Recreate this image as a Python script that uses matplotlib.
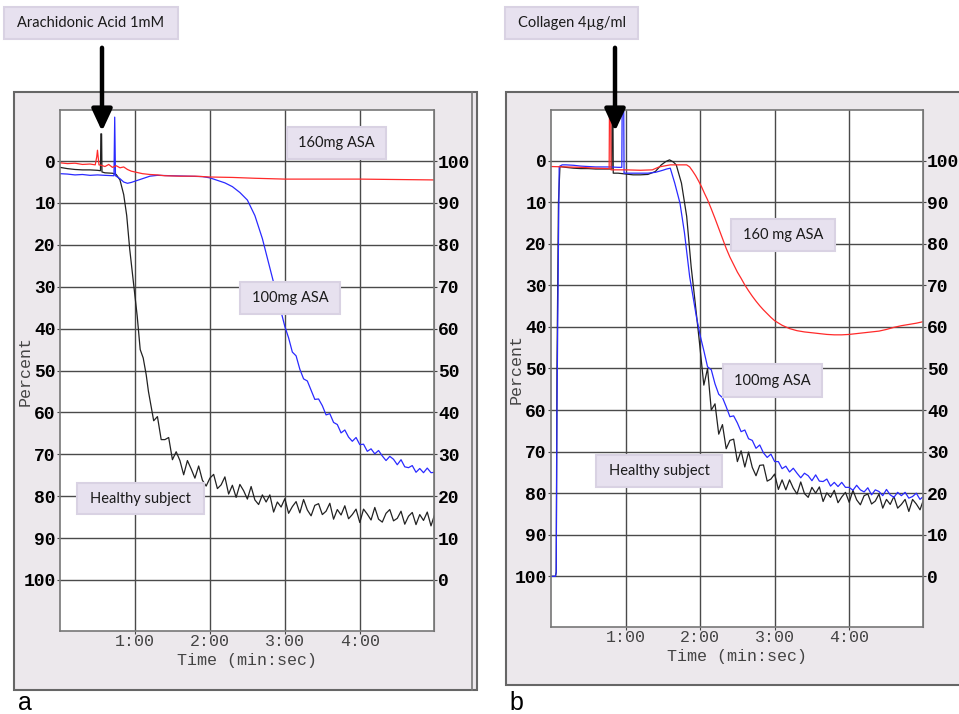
import numpy as np
import matplotlib
matplotlib.use('Agg')
import matplotlib.pyplot as plt
from matplotlib.patches import Rectangle, FancyArrowPatch
from matplotlib.lines import Line2D

W, H = 959, 714

# ---------------- panel a : arachidonic acid ----------------
a_black_t = [0, 0.1, 0.2, 0.3, 0.4, 0.5, 0.54, 0.545, 0.555, 0.56, 0.6, 0.7, 0.75, 0.8, 0.85,
             0.89, 0.93, 0.98, 1.03, 1.07, 1.11, 1.15, 1.18, 1.22]
a_black_v = [1.5, 1.8, 2.0, 2.1, 2.1, 2.2, 2.3, -6.5, -6.5, 2.6, 2.8, 2.9, 3.2, 4.5, 8.0,
             13, 21, 29, 37, 45, 47, 51, 55, 59]
a_black_tail = [62.0, 61.0, 66.5, 66.5, 66.0, 71.3, 69.4, 71.5, 74.9, 71.5, 73.5, 75.7, 72.8, 76.2,
                77.6, 75.7, 74.8, 78.2, 77.3, 75.4, 79.5, 77.4, 80.3, 77.2, 78.7, 80.7, 77.7, 80.9,
                82.0, 79.7, 81.4, 79.7, 83.8, 81.4, 82.6, 80.6, 84.1, 82.5, 81.3, 84.0, 80.8, 83.3,
                84.7, 82.2, 81.8, 84.4, 83.6, 81.7, 85.5, 83.2, 84.5, 82.3, 85.4, 84.4, 83.1, 86.3,
                83.1, 84.3, 85.7, 82.7, 85.5, 86.2, 84.1, 83.2, 85.9, 85.3, 83.6, 86.7, 84.8, 83.9,
                86.8, 84.4, 85.8, 83.8, 87.1, 84.3]  # 1.25 .. 5.00 every 0.05 min

a_blue_t = [0, 0.1, 0.2, 0.3, 0.4, 0.5, 0.6, 0.72, 0.73, 0.74, 0.8, 0.85, 0.9, 0.95, 1.0, 1.1,
            1.2, 1.3, 1.5, 1.7, 1.9, 2.0, 2.1, 2.2, 2.3, 2.4, 2.5, 2.6, 2.7, 2.8, 2.9, 3.0]
a_blue_v = [3.0, 3.1, 3.3, 3.2, 3.4, 3.3, 3.4, 3.5, -10.5, 3.5, 4.2, 5.0, 5.3, 5.1, 4.8, 4.2,
            3.6, 3.4, 3.5, 3.6, 3.7, 4.0, 4.6, 5.2, 6.1, 7.5, 9.3, 13.0, 18.5, 25.5, 32.5, 39.5]
a_blue_tail = [42.2, 45.6, 46.5, 49.7, 52.0, 52.5, 54.7, 56.9, 56.8, 58.4, 60.6, 60.3, 62.4, 62.9,
               64.9, 64.2, 65.9, 66.9, 66.0, 67.7, 67.6, 69.3, 68.7, 69.9, 69.1, 70.4, 71.5, 70.5,
               71.2, 72.5, 71.3, 73.0, 73.2, 72.7, 74.3, 73.4, 74.4, 73.3, 74.4, 74.3]  # 3.05 .. 5.00

a_red_t = [0, 0.1, 0.2, 0.3, 0.4, 0.47, 0.49, 0.5, 0.52, 0.55, 0.6, 0.65, 0.7, 0.75, 0.8, 0.85,
           0.9, 0.95, 1.0, 1.1, 1.2, 1.3, 1.4, 1.6, 1.8, 2.0, 2.3, 2.6, 3.0, 3.5, 4.0, 4.5, 5.0]
a_red_v = [0.4, 0.6, 0.5, 0.8, 0.7, 0.9, -1.0, -2.6, 0.9, 1.0, 1.3, 0.8, 1.5, 1.1, 1.6, 1.4,
           2.0, 2.4, 2.6, 3.0, 3.2, 3.3, 3.5, 3.6, 3.6, 3.8, 3.9, 4.1, 4.3, 4.3, 4.3, 4.4, 4.5]

# ---------------- panel b : collagen ----------------
b_black_t = [0, 0.06, 0.07, 0.08, 0.1, 0.12, 0.2, 0.3, 0.4, 0.5, 0.6, 0.7, 0.8, 0.815, 0.82,
             0.83, 0.835, 0.9, 1.0, 1.1, 1.2, 1.3, 1.4, 1.48, 1.54, 1.59, 1.64, 1.68, 1.75, 1.82,
             1.88, 1.93, 1.99]
b_black_v = [100, 100, 99, 50, 10, 1.4, 1.6, 1.8, 1.9, 1.9, 2.0, 2.0, 2.0, 2.0, -15, -15, 3.0,
             3.0, 3.2, 3.4, 3.4, 3.3, 2.6, 1.0, 0.2, -0.2, 0.3, 1.0, 5.4, 13.4, 25.5, 33.5, 43.5]
b_black_tail = [54.0, 50.0, 60.0, 58.5, 65.8, 63.5, 69.3, 67.3, 67.0, 72.4, 69.8, 73.7, 70.1, 73.8,
                75.8, 73.3, 73.2, 77.1, 76.6, 75.4, 79.1, 76.8, 79.2, 76.8, 78.8, 80.2, 77.3, 80.1,
                81.0, 78.6, 80.0, 78.5, 82.0, 79.9, 81.0, 79.3, 82.3, 80.9, 79.8, 82.2, 79.3, 81.6,
                82.8, 80.6, 80.2, 82.6, 81.9, 80.2, 83.6, 81.5, 82.7, 80.8, 83.6, 82.7, 81.5, 84.4,
                81.5, 82.6, 84.0, 81.4]  # 2.05 .. 5.00

b_blue_t = [0, 0.06, 0.07, 0.08, 0.1, 0.11, 0.15, 0.2, 0.3, 0.4, 0.5, 0.6, 0.7, 0.8, 0.9, 0.95,
            0.955, 0.975, 0.98, 1.0, 1.1, 1.2, 1.3, 1.4, 1.5, 1.55, 1.6, 1.66, 1.73, 1.79, 1.86,
            1.95, 2.0]
b_blue_v = [100, 100, 99, 60, 20, 1.4, 1.0, 1.0, 1.1, 1.3, 1.4, 1.5, 1.5, 1.5, 1.6, 1.6, -15,
            -15, 3.0, 3.0, 3.0, 3.0, 3.0, 2.8, 2.3, 2.0, 1.8, 5.4, 10.2, 17.3, 27.9, 37.5, 42.0]
b_blue_tail = [45.7, 49.6, 50.3, 53.7, 56.2, 57.0, 59.2, 61.6, 61.4, 63.1, 65.2, 64.8, 66.9, 67.3,
               69.2, 68.4, 70.3, 71.4, 70.6, 72.4, 72.4, 74.1, 73.5, 74.9, 74.0, 75.2, 76.3, 75.2,
               75.8, 77.0, 75.6, 77.1, 77.2, 76.6, 78.3, 77.4, 78.4, 77.4, 78.6, 78.6, 79.3, 78.1,
               79.2, 79.7, 78.7, 80.4, 79.2, 79.6, 80.6, 79.1, 80.4, 81.0, 79.8, 80.6, 79.8, 81.2,
               80.8, 80.0, 81.5, 80.7]  # 2.05 .. 5.00

b_red_t = [0, 0.2, 0.4, 0.6, 0.75, 0.78, 0.785, 0.8, 0.805, 0.85, 1.0, 1.2, 1.36, 1.45, 1.6, 1.7,
           1.82, 1.86, 1.9, 1.94, 1.98, 2.02, 2.06, 2.1, 2.15, 2.2, 2.25, 2.3, 2.35, 2.4, 2.45, 2.5,
           2.55, 2.6, 2.65, 2.7, 2.75, 2.8, 2.85, 2.9, 2.95, 3.0, 3.1, 3.2, 3.3, 3.4, 3.5, 3.6,
           3.7, 3.8, 3.9, 4.0, 4.1, 4.2, 4.3, 4.4, 4.5, 4.6, 4.7, 4.8, 4.9, 5.0]
b_red_v = [1.4, 1.5, 1.6, 1.8, 1.9, 1.9, -15, -15, 2.2, 2.2, 2.2, 2.3, 2.2, 1.5, 1.0, 1.0,
           1.0, 1.5, 2.5, 3.6, 4.9, 6.3, 7.9, 9.4, 11.6, 13.9, 16.3, 18.7, 21.1, 23.2, 25.0, 26.8,
           28.3, 29.9, 31.3, 32.6, 33.8, 34.9, 35.9, 36.8, 37.7, 38.5, 39.6, 40.4, 40.9, 41.2, 41.4, 41.6,
           41.8, 41.9, 41.9, 41.8, 41.6, 41.4, 41.2, 41.0, 40.6, 40.1, 39.7, 39.4, 39.1, 38.7]

left_ticks = list(range(0, 101, 10))
time_ticks = [1, 2, 3, 4]
time_labels = ['1:00', '2:00', '3:00', '4:00']

RED, BLUE, BLACK = '#ff2a2a', '#2a2aff', '#222222'
MONO = 'Liberation Mono'
BOXFONT = 'Lato'


def px(x, y):
    return x / W, 1 - y / H


def join(t, v, tail, t0, t1):
    tt = list(t) + list(np.linspace(t0, t1, len(tail)))
    return tt, list(v) + list(tail)


fig = plt.figure(figsize=(W / 100, H / 100), dpi=100)
fig.patch.set_facecolor('white')

# outer grey panels
for (x0, y0, x1, y1) in [(14, 92, 477, 690), (506, 92, 966, 685)]:
    fx, fy = px(x0, y1)
    fig.add_artist(Rectangle((fx, fy), (x1 - x0) / W, (y1 - y0) / H, transform=fig.transFigure,
                             fc='#ece8ec', ec='#666666', lw=1.5, zorder=0))
fig.add_artist(Line2D([472 / W, 472 / W], [1 - 92 / H, 1 - 690 / H], transform=fig.transFigure,
                      color='#777777', lw=1.2, zorder=1))


def make_axes(rect, series, xlab_y, ylab_x):
    ax = fig.add_axes(rect)
    ax.set_facecolor('white')
    for t, v, c in series:
        ax.plot(t, v, color=c, lw=0.9)
    ax.set_xlim(0, 4.99)
    ax.set_ylim(112.2, -12.2)
    ax.set_xticks(time_ticks)
    ax.set_xticklabels(time_labels, fontfamily=MONO, fontsize=12, color='#444444')
    ax.set_yticks(left_ticks)
    ax.set_yticklabels([str(v) for v in left_ticks], fontfamily=MONO, fontsize=13,
                       fontweight='bold')
    ax.tick_params(axis='both', length=2, color='#444444', pad=1)
    ax.tick_params(axis='x', pad=0)
    ax.grid(True, color='#4a4a4a', lw=1.0)
    for s in ax.spines.values():
        s.set_color('#777777')
        s.set_linewidth(1.2)
    sec = ax.secondary_yaxis('right', functions=(lambda v: 100 - v, lambda v: 100 - v))
    sec.set_yticks(left_ticks)
    sec.set_yticklabels([str(v) for v in left_ticks], fontfamily=MONO, fontsize=13,
                        fontweight='bold')
    sec.tick_params(length=2, color='#444444', pad=1)
    sec.spines['right'].set_color('#777777')
    ax.set_xlabel('Time (min:sec)', fontfamily=MONO, fontsize=12, color='#444444')
    ax.set_ylabel('Percent', fontfamily=MONO, fontsize=12, color='#444444')
    ax.xaxis.set_label_coords(0.5, xlab_y)
    ax.yaxis.set_label_coords(ylab_x, 0.5)
    return ax


abt, abv = join(a_black_t, a_black_v, a_black_tail, 1.25, 5.0)
aut, auv = join(a_blue_t, a_blue_v, a_blue_tail, 3.05, 5.0)
make_axes([60 / W, 1 - 631 / H, 374 / W, 521 / H],
          [(abt, abv, BLACK), (aut, auv, BLUE), (a_red_t, a_red_v, RED)], -0.043, -0.073)

bbt, bbv = join(b_black_t, b_black_v, b_black_tail, 2.05, 5.0)
but, buv = join(b_blue_t, b_blue_v, b_blue_tail, 2.05, 5.0)
make_axes([551 / W, 1 - 627 / H, 372 / W, 517 / H],
          [(bbt, bbv, BLACK), (but, buv, BLUE), (b_red_t, b_red_v, RED)], -0.043, -0.073)

# label boxes (pixel extents from the figure)
boxes = [
    ('Arachidonic Acid 1mM', 4, 7, 178, 39),
    ('Collagen 4µg/ml', 505, 7, 638, 39),
    ('160mg ASA', 287, 127, 386, 159),
    ('100mg ASA', 240, 282, 340, 314),
    ('Healthy subject', 77, 483, 204, 514),
    ('160 mg ASA', 731, 219, 835, 251),
    ('100mg ASA', 723, 364, 822, 397),
    ('Healthy subject', 596, 455, 722, 487),
]
for txt, x0, y0, x1, y1 in boxes:
    fx, fy = px(x0, y1)
    fig.add_artist(Rectangle((fx, fy), (x1 - x0) / W, (y1 - y0) / H, transform=fig.transFigure,
                             fc='#e7e1ef', ec='#d9d2e3', lw=1.5, zorder=5))
    cx, cy = px((x0 + x1) / 2, (y0 + y1) / 2)
    fig.text(cx, cy, txt, ha='center', va='center', fontsize=10.5, family=BOXFONT,
             color='#1a1a1a', zorder=6)

# arrows marking agonist addition
for x in [102, 615]:
    fig.add_artist(FancyArrowPatch(px(x, 45), px(x, 134), transform=fig.transFigure,
                                   arrowstyle='-|>,head_length=0.6,head_width=0.28',
                                   mutation_scale=22, lw=3.2, color='black', zorder=7))

fig.text(*px(18, 703), 'a', fontsize=18, family='Liberation Sans', va='center', ha='left')
fig.text(*px(509, 703), 'b', fontsize=18, family='Liberation Sans', va='center', ha='left')

fig.savefig('out.png', dpi=100)
